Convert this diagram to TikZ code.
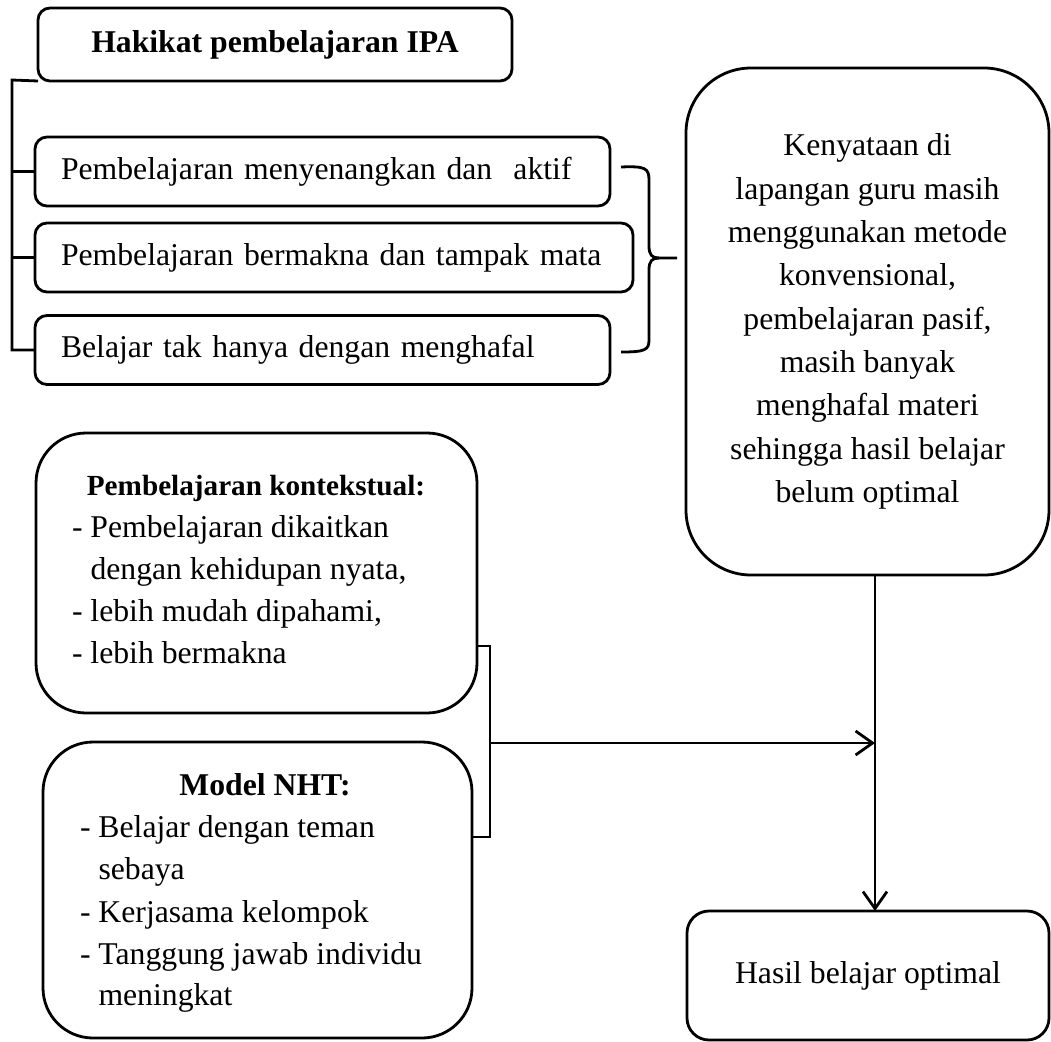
\documentclass[tikz,border=0pt]{standalone}
\usepackage{fontspec}
\setmainfont{Liberation Serif}
\usetikzlibrary{arrows.meta,calc}
\begin{document}
\begin{tikzpicture}[x=1pt,y=-1pt,
  font=\fontsize{31.7pt}{43.3pt}\selectfont,
  lw/.style={line width=2.8pt},
  smallbox/.style={draw, lw, rounded corners=12pt, minimum height=69pt, inner xsep=26pt, inner ysep=0pt, outer sep=0pt, align=left},
  bigbox/.style={draw, lw, rounded corners=50pt, outer sep=0pt, inner sep=0pt},
  txt/.style={inner sep=0pt, outer sep=0pt},
  arr/.style={lw, -{Straight Barb[length=17pt,width=24pt]}}]
\useasboundingbox (0,0) rectangle (1051,1041);

% top-left boxes
\node[draw, lw, rounded corners=12pt, minimum width=474pt, minimum height=73pt, inner sep=0pt, outer sep=0pt, font=\fontsize{31.7pt}{43.3pt}\selectfont\bfseries] (b1) at (275,44.5) {Hakikat pembelajaran IPA};
\node[smallbox, text width=523pt] (b2) at (322.5,171.5) {Pembelajaran menyenangkan dan~ aktif};
\node[smallbox, text width=546pt] (b3) at (334,257.5) {Pembelajaran bermakna dan tampak mata};
\node[smallbox, text width=523pt] (b4) at (322.5,350) {Belajar tak hanya dengan menghafal};

% right big box
\node[bigbox, rounded corners=65pt, minimum width=363pt, minimum height=507pt, align=center] (kn) at (867.5,321.5)
  {Kenyataan di\\lapangan guru masih\\menggunakan metode\\konvensional,\\pembelajaran pasif,\\masih banyak\\menghafal materi\\sehingga hasil belajar\\belum optimal};

% contextual box
\node[bigbox, minimum width=441pt, minimum height=280pt] (kt) at (256.5,573) {};
\node[txt, anchor=base, font=\fontsize{29.2pt}{40pt}\selectfont\bfseries] (kt0) at (256,495) {Pembelajaran kontekstual:};
\node[txt, anchor=base west] (kt1) at (72,537) {- Pembelajaran dikaitkan};
\node[txt, anchor=base west] (kt2) at (90.5,579) {dengan kehidupan nyata,};
\node[txt, anchor=base west] (kt3) at (72,621) {- lebih mudah dipahami,};
\node[txt, anchor=base west] (kt4) at (72,663) {- lebih bermakna};

% NHT box
\node[bigbox, minimum width=429pt, minimum height=296pt] (nh) at (257.5,890) {};
\node[txt, anchor=base, font=\fontsize{31.7pt}{43.3pt}\selectfont\bfseries] (nh0) at (265,795) {Model NHT:};
\node[txt, anchor=base west] (nh1) at (80,837) {- Belajar dengan teman};
\node[txt, anchor=base west] (nh2) at (98.5,879) {sebaya};
\node[txt, anchor=base west] (nh3) at (80,922) {- Kerjasama kelompok};
\node[txt, anchor=base west] (nh4) at (80,964) {- Tanggung jawab individu};
\node[txt, anchor=base west] (nh5) at (98.5,1005) {meningkat};

% result box
\node[draw, lw, rounded corners=22pt, minimum width=362pt, minimum height=129pt, inner sep=0pt, outer sep=0pt] (hs) at (868,975.5) {Hasil belajar optimal};

% left bracket
\coordinate (L1) at (12,80);
\draw[lw] (b1.south west) -- (L1) -- (L1 |- b4.west) -- (b4.west);
\draw[lw] (b2.west) -- (b2.west -| L1);
\draw[lw] (b3.west) -- (b3.west -| L1);

% right brace
\coordinate (bt) at (621,167);
\coordinate (bb) at (621,352);
\coordinate (tip) at (677,258);
\draw[lw] (bt) .. controls (645,166) and (649,168) .. (649,180) -- (649,246)
  .. controls (649,255) and (652,258) .. (659,258) -- (tip);
\draw[lw] (659,258) .. controls (652,258) and (649,261) .. (649,270) -- (649,340)
  .. controls (649,350) and (645,352) .. (bb);

% lower bracket and arrows
\coordinate (m1) at (490,646);
\coordinate (m2) at (490,837);
\coordinate (mm) at (490,743);
\coordinate (vx) at (875,0);
\draw[lw] (kt.east |- m1) -- (m1) -- (m2) -- (nh.east |- m2);
\draw[arr] (kn.south -| vx) -- (hs.north -| vx);
\draw[arr] (mm) -- (mm -| vx);
\end{tikzpicture}
\end{document}
